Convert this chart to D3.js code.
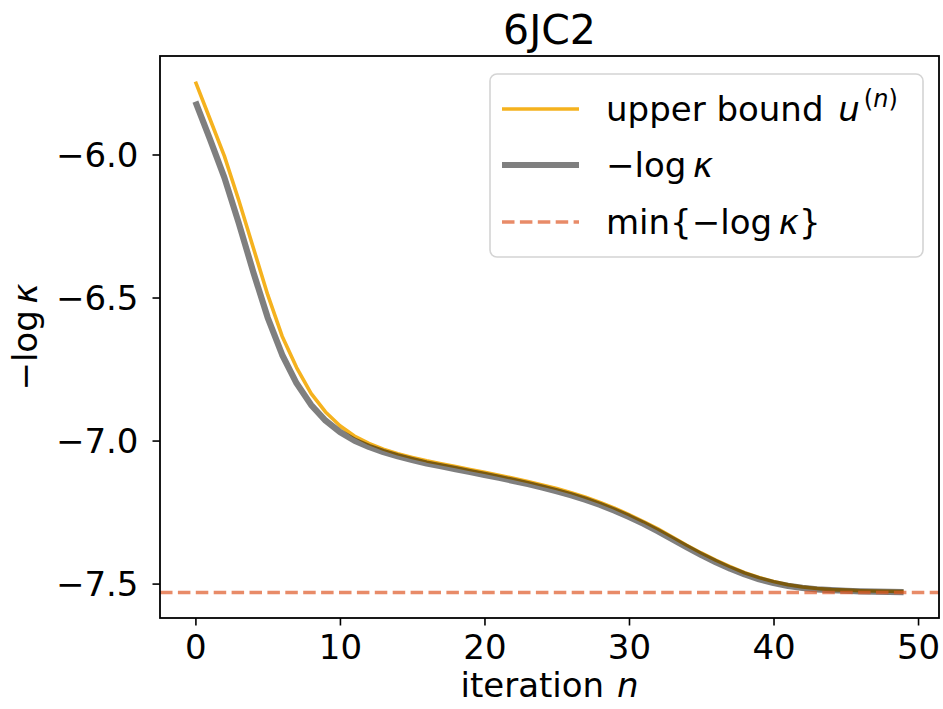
<!DOCTYPE html>
<html><head><meta charset="utf-8">
<script src="https://cdn.jsdelivr.net/npm/d3@7"></script>
<style>body{margin:0;background:#fff} text{font-family:"DejaVu Sans",sans-serif;fill:#000}</style>
</head><body><svg id="c" width="943" height="709"></svg>
<script>
const title = "6JC2";
const iterations = [0,1,2,3,4,5,6,7,8,9,10,11,12,13,14,15,16,17,18,19,20,21,22,23,24,25,26,27,28,29,30,31,32,33,34,35,36,37,38,39,40,41,42,43,44,45,46,47,48,49];
const negLogKappa = [-5.815,-5.945,-6.080,-6.240,-6.410,-6.570,-6.700,-6.800,-6.875,-6.930,
  -6.970,-7.000,-7.022,-7.040,-7.055,-7.068,-7.080,-7.090,-7.100,-7.110,
  -7.120,-7.130,-7.141,-7.152,-7.164,-7.177,-7.191,-7.207,-7.225,-7.245,
  -7.267,-7.291,-7.317,-7.345,-7.373,-7.400,-7.425,-7.448,-7.468,-7.485,
  -7.498,-7.508,-7.515,-7.520,-7.523,-7.525,-7.527,-7.528,-7.529,-7.530];
const upperBound = [-5.745,-5.875,-6.005,-6.160,-6.325,-6.490,-6.635,-6.745,-6.835,-6.900,
  -6.948,-6.984,-7.010,-7.030,-7.046,-7.059,-7.071,-7.081,-7.091,-7.101,
  -7.111,-7.121,-7.132,-7.143,-7.155,-7.168,-7.182,-7.198,-7.216,-7.236,
  -7.259,-7.283,-7.309,-7.337,-7.366,-7.393,-7.418,-7.441,-7.462,-7.479,
  -7.493,-7.504,-7.512,-7.517,-7.521,-7.523,-7.525,-7.526,-7.527,-7.528];
const minNegLogKappa = -7.531;
const xTicks = [0,10,20,30,40,50];
const yTicks = [-6.0,-6.5,-7.0,-7.5];

const svg = d3.select("#c");
const L=160, R=939, T=56, B=618;
const xMin=d3.min(iterations), xMax=d3.max(iterations), xp=(xMax-xMin)*0.05;
const allY = negLogKappa.concat(upperBound,[minNegLogKappa]);
const yMin=d3.min(allY), yMax=d3.max(allY), yp=(yMax-yMin)*0.05;
const x = d3.scaleLinear().domain([xMin-xp,xMax+xp]).range([L,R]);
const y = d3.scaleLinear().domain([yMin-yp,yMax+yp]).range([B,T]);

const cUpper="#f5b21e", cMin="#de5a28";
svg.append("rect").attr("width",943).attr("height",709).attr("fill","#fff");
svg.append("defs").append("clipPath").attr("id","clip").append("rect")
  .attr("x",L).attr("y",T).attr("width",R-L).attr("height",B-T);
const g = svg.append("g").attr("clip-path","url(#clip)");
const line = d3.line().x((d,i)=>x(iterations[i])).y(d=>y(d));
g.append("path").datum(upperBound).attr("d",line).attr("fill","none")
  .attr("stroke",cUpper).attr("stroke-width",3.6).attr("stroke-linejoin","round");
g.append("path").datum(negLogKappa).attr("d",line).attr("fill","none")
  .attr("stroke","#000").attr("stroke-opacity",0.5).attr("stroke-width",6.2).attr("stroke-linejoin","round");
g.append("line").attr("x1",L).attr("x2",R).attr("y1",y(minNegLogKappa)).attr("y2",y(minNegLogKappa))
  .attr("stroke",cMin).attr("stroke-opacity",0.7).attr("stroke-width",3.6).attr("stroke-dasharray","12.5,5.4");

// axes
const xa = svg.append("g").attr("transform",`translate(0,${B})`)
  .call(d3.axisBottom(x).tickValues(xTicks).tickSize(7.5).tickPadding(8).tickFormat(d3.format("d")));
const ya = svg.append("g").attr("transform",`translate(${L},0)`)
  .call(d3.axisLeft(y).tickValues(yTicks).tickSize(7.5).tickPadding(14).tickFormat(d=>d3.format(".1f")(d).replace("-","\u2212")));
[xa,ya].forEach(a=>{a.select(".domain").remove();a.selectAll("line").attr("stroke","#000").attr("stroke-width",1.6);
  a.selectAll("text").attr("font-size",34).attr("font-family","DejaVu Sans");});
xa.selectAll("text").attr("dy","0.75em");
ya.selectAll("text").attr("dy","0.36em");
svg.append("rect").attr("x",L).attr("y",T).attr("width",R-L).attr("height",B-T)
  .attr("fill","none").attr("stroke","#000").attr("stroke-width",1.8);

// labels
svg.append("text").attr("x",(L+R)/2).attr("y",44).attr("text-anchor","middle").attr("font-size",41).text(title);
const xl = svg.append("text").attr("x",(L+R)/2).attr("y",697).attr("text-anchor","middle").attr("font-size",34);
xl.append("tspan").text("iteration ");
xl.append("tspan").attr("font-style","italic").attr("dx",2).text("n");
const yl = svg.append("text").attr("transform",`translate(37,${(T+B)/2}) rotate(-90)`).attr("text-anchor","middle").attr("font-size",34);
yl.append("tspan").text("\u2212log\u2009");
yl.append("tspan").attr("font-style","italic").text("\u03ba");

// legend
const lg = svg.append("g");
lg.append("rect").attr("x",490).attr("y",74).attr("width",433).attr("height",183).attr("rx",7)
  .attr("fill","#fff").attr("fill-opacity",0.8).attr("stroke","#d4d4d4").attr("stroke-width",1.6);
const rows=[109,165,222];
lg.append("line").attr("x1",502).attr("x2",579).attr("y1",rows[0]).attr("y2",rows[0]).attr("stroke",cUpper).attr("stroke-width",3.6);
lg.append("line").attr("x1",502).attr("x2",579).attr("y1",rows[1]).attr("y2",rows[1]).attr("stroke","#000").attr("stroke-opacity",0.5).attr("stroke-width",6.2);
lg.append("line").attr("x1",502).attr("x2",579).attr("y1",rows[2]).attr("y2",rows[2]).attr("stroke",cMin).attr("stroke-opacity",0.7).attr("stroke-width",3.6).attr("stroke-dasharray","12.5,5.4");
const t1 = lg.append("text").attr("x",606).attr("y",rows[0]+12).attr("font-size",34);
t1.append("tspan").text("upper bound ");
t1.append("tspan").attr("font-style","italic").attr("dx",4).text("u");
t1.append("tspan").attr("font-size",24).attr("dy",-14).attr("dx",4).text("(");
t1.append("tspan").attr("font-size",24).attr("font-style","italic").text("n");
t1.append("tspan").attr("font-size",24).text(")");
const t2 = lg.append("text").attr("x",606).attr("y",rows[1]+12).attr("font-size",34);
t2.append("tspan").text("\u2212log\u2009");
t2.append("tspan").attr("font-style","italic").text("\u03ba");
const t3 = lg.append("text").attr("x",606).attr("y",rows[2]+12).attr("font-size",34);
t3.append("tspan").text("min{\u2212log\u2009");
t3.append("tspan").attr("font-style","italic").text("\u03ba");
t3.append("tspan").text("}");
</script></body></html>
